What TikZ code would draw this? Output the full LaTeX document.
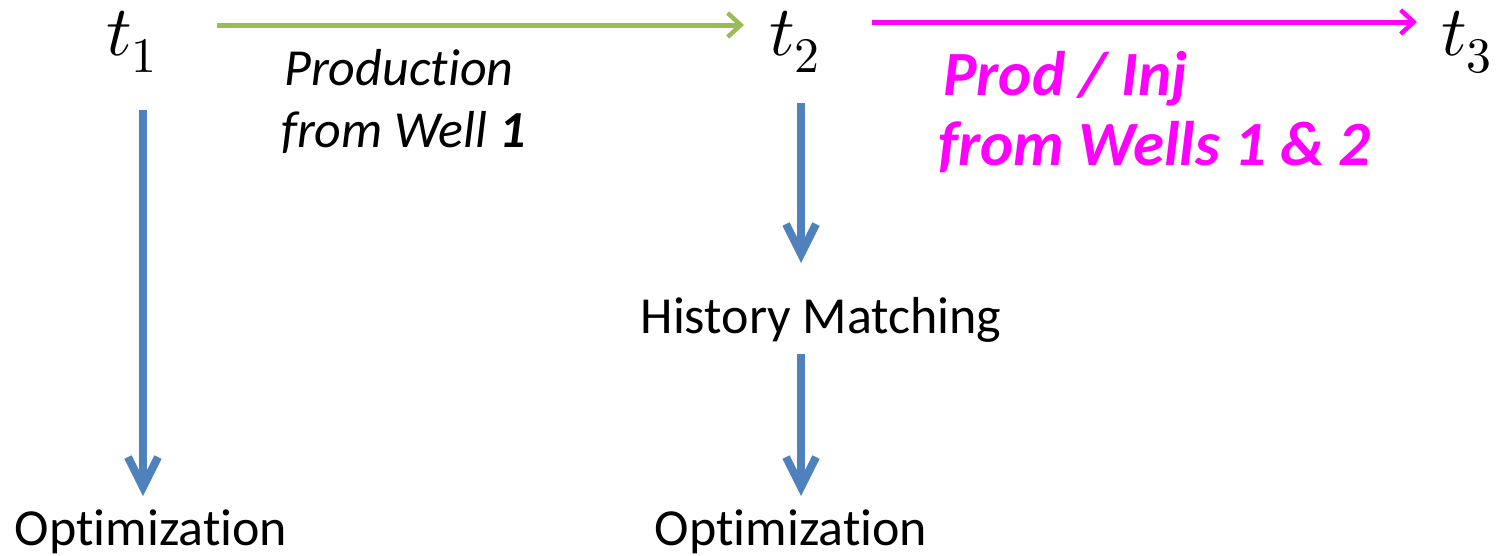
\documentclass[tikz,border=0pt]{standalone}
\usepackage{unicode-math}
\setmainfont{Carlito}[Ligatures={NoCommon,NoContextual}, Contextuals=NoAlternate, RawFeature={-liga;-clig;-calt}]
\setmathfont{Latin Modern Math}
\usetikzlibrary{arrows.meta}
\definecolor{ogreen}{HTML}{9BBB59}
\definecolor{oblue}{HTML}{4F81BD}
\definecolor{omag}{HTML}{FF00FF}
\tikzset{
  tlabel/.style={inner sep=0pt, anchor=base west, font=\fontsize{71}{71}\selectfont},
  txt/.style={inner sep=0pt, font=\fontsize{52}{62}\selectfont},
  magtxt/.style={inner sep=0pt, anchor=base west, text=omag, font=\fontsize{63}{70}\selectfont\bfseries\itshape},
  harrow/.style={line width=5pt, -{Straight Barb[length=13pt,width=24pt,line width=4.5pt]}},
  varrow/.style={oblue, line width=8pt, -{Straight Barb[length=30pt,width=30pt,line width=8pt]}}
}
\begin{document}
\begin{tikzpicture}[x=1pt,y=-1pt]
\useasboundingbox (0,0) rectangle (1502,555);
% time labels
\node[tlabel] (t1) at (106,55) {$t_1$};
\node[tlabel] (t2) at (769,55) {$t_2$};
\node[tlabel] (t3) at (1441,55) {$t_3$};
% texts
\node[txt, anchor=base west, font=\fontsize{52}{62}\selectfont\itshape] (prod) at (284,85) {Production};
\node[txt, anchor=base west, font=\fontsize{52}{62}\selectfont\itshape] (well) at (281,147) {from Well \textbf{1}};
\node[magtxt] (inj1) at (943,95) {Prod / Inj};
\node[magtxt] (inj2) at (938,165) {from Wells 1 \& 2};
\node[txt, anchor=base] (hm) at (821,333) {History Matching};
\node[txt, anchor=base] (opt1) at (151,545) {Optimization};
\node[txt, anchor=base] (opt2) at (791,545) {Optimization};
% connector end points
\coordinate (g1) at (217,25);
\coordinate (g2) at (744,25);
\coordinate (m1) at (872,22);
\coordinate (m2) at (1417,22);
\coordinate (b1s) at (143,110);
\coordinate (b1e) at (143,496);
\coordinate (b2s) at (801,103);
\coordinate (b2e) at (801,263);
\coordinate (b3s) at (801,354);
\coordinate (b3e) at (801,496);
% arrows
\draw[harrow, ogreen] (g1) -- (g2);
\draw[harrow, omag] (m1) -- (m2);
\draw[varrow] (b1s) -- (b1e);
\draw[varrow] (b2s) -- (b2e);
\draw[varrow] (b3s) -- (b3e);
\end{tikzpicture}
\end{document}
